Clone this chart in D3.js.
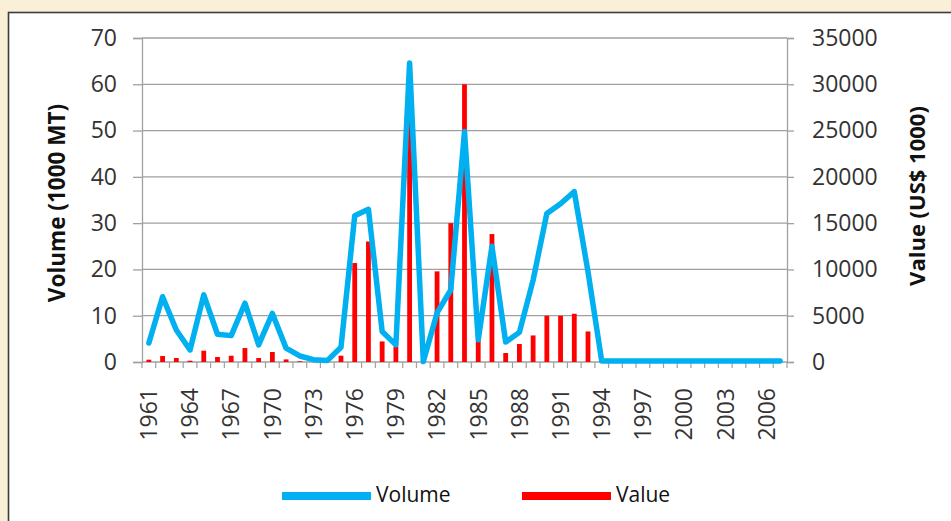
<!DOCTYPE html>
<html>
<head>
<meta charset="utf-8">
<script src="https://cdn.jsdelivr.net/npm/d3@7"></script>
<style>
    html, body { margin: 0; padding: 0; background: #faf0d8; }
    #chart { width: 951px; height: 521px; }
</style>
</head>
<body>
<div id="chart"></div>
<script>
const years = [
    "1961", "1962", "1963", "1964", "1965", "1966", "1967", "1968", "1969", "1970",
    "1971", "1972", "1973", "1974", "1975", "1976", "1977", "1978", "1979", "1980",
    "1981", "1982", "1983", "1984", "1985", "1986", "1987", "1988", "1989", "1990",
    "1991", "1992", "1993", "1994", "1995", "1996", "1997", "1998", "1999", "2000",
    "2001", "2002", "2003", "2004", "2005", "2006", "2007"
];

// Volume (1000 MT), left axis
const volume = [
    4.1, 14.1, 6.9, 2.6, 14.5, 6.0, 5.7, 12.7, 3.7, 10.5,
    3.0, 1.3, 0.5, 0.3, 3.2, 31.6, 33.0, 6.6, 3.7, 64.6,
    0.1, 10.6, 15.6, 49.8, 4.8, 25.0, 4.3, 6.4, 17.7, 32.1,
    34.2, 36.8, 19.5, 0.2, 0.2, 0.2, 0.2, 0.2, 0.2, 0.2,
    0.2, 0.2, 0.2, 0.2, 0.2, 0.2, 0.2
];

// Value (US$ 1000), right axis
const value = [
    250, 650, 430, 140, 1220, 540, 680, 1510, 430, 1080,
    280, 80, 0, 0, 680, 10690, 13020, 2220, 1690, 27000,
    0, 9790, 15000, 30000, 2300, 13820, 970, 1940, 2870, 5000,
    5000, 5210, 3300, 0, 0, 0, 0, 0, 0, 0,
    0, 0, 0, 0, 0, 0, 0
];

const yearLabels = ["1961", "1964", "1967", "1970", "1973", "1976", "1979", "1982",
    "1985", "1988", "1991", "1994", "1997", "2000", "2003", "2006"];
const volumeTicks = [0, 10, 20, 30, 40, 50, 60, 70];
const valueTicks = [0, 5000, 10000, 15000, 20000, 25000, 30000, 35000];

function drawChart() {
    const width = 951;
    const height = 521;
    const margin = { top: 38, bottom: 159, left: 142, right: 164 };
    const font = "'Open Sans', Lato, sans-serif";

    const svg = d3.select("#chart")
        .append("svg")
        .attr("width", width)
        .attr("height", height);

    // cream page and white chart panel
    svg.append("rect")
        .attr("width", width)
        .attr("height", height)
        .attr("fill", "#faf0d8");

    svg.append("rect")
        .attr("x", 8.5)
        .attr("y", 12.5)
        .attr("width", width + 10)
        .attr("height", height + 10)
        .attr("fill", "white")
        .attr("stroke", "#3c3c3c")
        .attr("stroke-width", 1.6);

    const x = d3.scaleBand()
        .domain(years)
        .range([margin.left, width - margin.right])
        .padding(0);

    const yL = d3.scaleLinear()
        .domain([0, 70])
        .range([height - margin.bottom, margin.top]);

    const yR = d3.scaleLinear()
        .domain([0, 35000])
        .range([height - margin.bottom, margin.top]);

    // gridlines
    svg.append("g")
        .selectAll("line")
        .data(volumeTicks.filter(d => d > 0))
        .enter()
        .append("line")
        .attr("x1", margin.left)
        .attr("x2", width - margin.right)
        .attr("y1", d => yL(d))
        .attr("y2", d => yL(d))
        .attr("stroke", "#a0a0a0")
        .attr("stroke-width", 1.3);

    // left axis
    const leftAxis = svg.append("g")
        .attr("transform", `translate(${margin.left},0)`)
        .call(d3.axisLeft(yL).tickValues(volumeTicks).tickSize(9).tickPadding(16));
    leftAxis.select(".domain").attr("stroke", "#a0a0a0").attr("stroke-width", 1.3);
    leftAxis.selectAll(".tick line").attr("stroke", "#a0a0a0").attr("stroke-width", 1.3);
    leftAxis.selectAll("text")
        .style("font-family", font)
        .style("font-size", "23px")
        .attr("fill", "#333");

    // right axis
    const rightAxis = svg.append("g")
        .attr("transform", `translate(${width - margin.right},0)`)
        .call(d3.axisRight(yR).tickValues(valueTicks).tickFormat(d3.format("d")).tickSize(7).tickPadding(18));
    rightAxis.select(".domain").attr("stroke", "#a0a0a0").attr("stroke-width", 1.3);
    rightAxis.selectAll(".tick line").attr("stroke", "#a0a0a0").attr("stroke-width", 1.3);
    rightAxis.selectAll("text")
        .style("font-family", font)
        .style("font-size", "23px")
        .attr("fill", "#333");

    // bottom axis: ticks between categories, labels every 3 years
    const base = height - margin.bottom;
    svg.append("line")
        .attr("x1", margin.left)
        .attr("x2", width - margin.right)
        .attr("y1", base)
        .attr("y2", base)
        .attr("stroke", "#a0a0a0")
        .attr("stroke-width", 1.3);

    svg.append("g")
        .selectAll("line")
        .data(years.concat(["end"]))
        .enter()
        .append("line")
        .attr("x1", (d, i) => i < years.length ? x(d) : x(years[years.length - 1]) + x.bandwidth())
        .attr("x2", (d, i) => i < years.length ? x(d) : x(years[years.length - 1]) + x.bandwidth())
        .attr("y1", base)
        .attr("y2", base + 6)
        .attr("stroke", "#a0a0a0")
        .attr("stroke-width", 1.2);

    const bottomAxis = svg.append("g")
        .attr("transform", `translate(0,${base})`)
        .call(d3.axisBottom(x).tickValues(yearLabels).tickSize(0).tickPadding(0));
    bottomAxis.select(".domain").remove();
    bottomAxis.selectAll("text")
        .attr("transform", "rotate(-90)")
        .attr("x", -26)
        .attr("y", 0)
        .attr("dy", "0.36em")
        .style("text-anchor", "end")
        .style("font-family", font)
        .style("font-size", "23px")
        .attr("fill", "#333");

    // value bars
    const barWidth = x.bandwidth() * 0.35;
    svg.append("g")
        .selectAll("rect")
        .data(years)
        .enter()
        .append("rect")
        .attr("x", (d, i) => x(d) + x.bandwidth() / 2 - barWidth / 2)
        .attr("y", (d, i) => yR(value[i]))
        .attr("width", barWidth)
        .attr("height", (d, i) => yR(0) - yR(value[i]))
        .attr("fill", "#ff0000");

    // volume line
    const line = d3.line()
        .x((d, i) => x(years[i]) + x.bandwidth() / 2)
        .y(d => yL(d));

    svg.append("path")
        .datum(volume)
        .attr("d", line)
        .attr("fill", "none")
        .attr("stroke", "#00b0f0")
        .attr("stroke-width", 5.5)
        .attr("stroke-linejoin", "round")
        .attr("stroke-linecap", "round");

    // axis titles
    svg.append("text")
        .attr("transform", `translate(65,${yL(35) + 3}) rotate(-90)`)
        .attr("text-anchor", "middle")
        .style("font-family", font)
        .style("font-weight", "bold")
        .style("font-size", "22.5px")
        .attr("fill", "#111")
        .text("Volume (1000 MT)");

    svg.append("text")
        .attr("transform", `translate(925,${yL(35) - 4}) rotate(-90)`)
        .attr("text-anchor", "middle")
        .style("font-family", font)
        .style("font-weight", "bold")
        .style("font-size", "22px")
        .attr("fill", "#111")
        .text("Value (US$ 1000)");

    // legend
    const legendItems = [
        { name: "Volume", color: "#00b0f0", x: 282 },
        { name: "Value", color: "#ff0000", x: 522 }
    ];

    const legend = svg.selectAll(".legend")
        .data(legendItems)
        .enter()
        .append("g")
        .attr("class", "legend")
        .attr("transform", d => `translate(${d.x},496)`);

    legend.append("rect")
        .attr("x", 0)
        .attr("y", -4)
        .attr("width", 89)
        .attr("height", 8)
        .attr("fill", d => d.color);

    legend.append("text")
        .attr("x", 94)
        .attr("y", 6)
        .style("font-family", font)
        .style("font-size", "21px")
        .attr("fill", "#111")
        .text(d => d.name);
}

document.addEventListener("DOMContentLoaded", function(event) {
    drawChart();
});
</script>
</body>
</html>
